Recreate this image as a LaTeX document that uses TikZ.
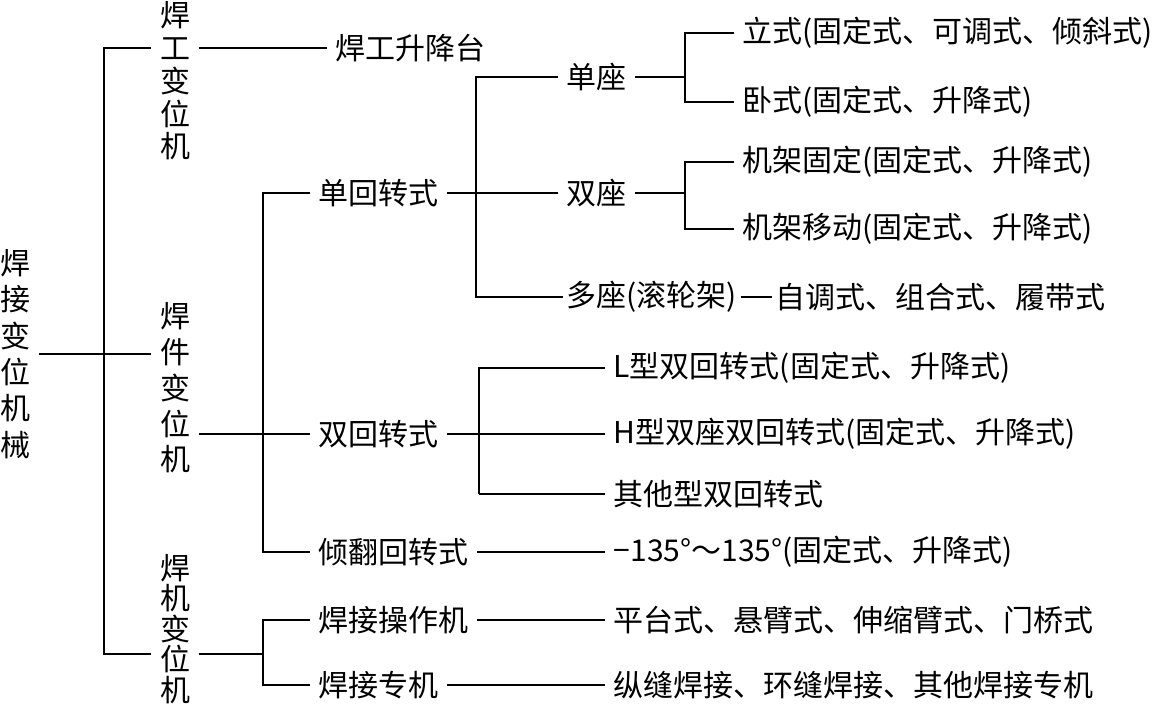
\documentclass[tikz,border=0pt]{standalone}
\usepackage{fontspec}
\setmainfont{Noto Sans CJK SC}
\begin{document}
\begin{tikzpicture}[x=1pt,y=-1pt,line width=1.4pt,
  every node/.style={font=\fontsize{30}{36}\selectfont,inner xsep=8pt,inner ysep=1pt},
  vtext/.style={align=center},
  leaf/.style={anchor=west},
  heavy/.style={line width=2.2pt}]
  \useasboundingbox[fill=white] (0,0) rectangle (1154,708);
  % branch columns
  \coordinate (t) at (104,0);
  \coordinate (tbot) at (104,654);
  \coordinate (b1) at (263,0);
  \coordinate (b2) at (476,0);
  \coordinate (b3) at (685,0);
  \coordinate (b4) at (479,0);
  % vertical labels
  \node[vtext,font=\fontsize{30}{36.4}\selectfont] (root) at (15,354) {焊\\接\\变\\位\\机\\械};
  \node[vtext,font=\fontsize{30}{32.8}\selectfont] (gong) at (175,81) {焊\\工\\变\\位\\机};
  \node[vtext,font=\fontsize{30}{35.8}\selectfont] (jian) at (175,388) {焊\\件\\变\\位\\机};
  \node[vtext,font=\fontsize{30}{30.5}\selectfont] (jiq) at (175,629) {焊\\机\\变\\位\\机};
  % second column
  \node[leaf] (tai) at (327,48) {焊工升降台};
  \node[leaf] (dan) at (310,193) {单回转式};
  \node[leaf] (shuang) at (310,434) {双回转式};
  \node[leaf] (qing) at (310,552) {倾翻回转式};
  \node[leaf] (cao) at (310,620) {焊接操作机};
  \node[leaf] (zhuan) at (310,685) {焊接专机};
  % third column
  \node[leaf] (dz) at (558,77) {单座};
  \node[leaf] (sz) at (558,193) {双座};
  \node[leaf,inner xsep=3pt] (duo) at (563,297) {多座(滚轮架)};
  \node[leaf,inner xsep=3pt] (duoz) at (772,297) {自调式、组合式、履带式};
  \node[leaf] (li) at (734,33) {立式(固定式、可调式、倾斜式)};
  \node[leaf] (wo) at (734,102) {卧式(固定式、升降式)};
  \node[leaf] (jg) at (734,162) {机架固定(固定式、升降式)};
  \node[leaf] (jy) at (734,229) {机架移动(固定式、升降式)};
  \node[leaf] (lx) at (605,368) {L型双回转式(固定式、升降式)};
  \node[leaf] (hx) at (605,434) {H型双座双回转式(固定式、升降式)};
  \node[leaf] (qt) at (605,494) {其他型双回转式};
  \node[leaf] (jd) at (605,552) {−135°～135°(固定式、升降式)};
  \node[leaf] (pt) at (605,620) {平台式、悬臂式、伸缩臂式、门桥式};
  \node[leaf] (zf) at (605,685) {纵缝焊接、环缝焊接、其他焊接专机};
  % trunk
  \draw (root.east) -- (jian.west |- root.east);
  \draw[heavy] (gong.west |- tai.west) -- (t |- tai.west) -- (tbot) -- (jiq.west |- tbot);
  \draw (gong.east |- tai.west) -- (tai.west);
  \draw (jian.east |- shuang.west) -- (shuang.west);
  \draw[heavy] (jiq.east |- tbot) -- (b1 |- tbot);
  \draw (dan.west) -- (b1 |- dan.west) -- (b1 |- qing.west) -- (qing.west);
  \draw (cao.west) -- (b1 |- cao.west) -- (b1 |- zhuan.west) -- (zhuan.west);
  % single rotary
  \draw (dan.east) -- (sz.west);
  \draw (dz.west) -- (b2 |- dz.west) -- (b2 |- duo.west) -- (duo.west);
  \draw (duo.east) -- (duoz.west);
  \draw (dz.east) -- (b3 |- dz.east);
  \draw (li.west) -- (b3 |- li.west) -- (b3 |- wo.west) -- (wo.west);
  \draw (sz.east) -- (b3 |- sz.east);
  \draw[heavy] (jg.west) -- (b3 |- jg.west) -- (b3 |- jy.west) -- (jy.west);
  % double rotary and the rest
  \draw (shuang.east) -- (hx.west);
  \draw (lx.west) -- (b4 |- lx.west) -- (b4 |- qt.west);
  \draw[heavy] (b4 |- qt.west) -- (qt.west);
  \draw (qing.east) -- (jd.west);
  \draw (cao.east) -- (pt.west);
  \draw (zhuan.east) -- (zf.west);
\end{tikzpicture}
\end{document}
